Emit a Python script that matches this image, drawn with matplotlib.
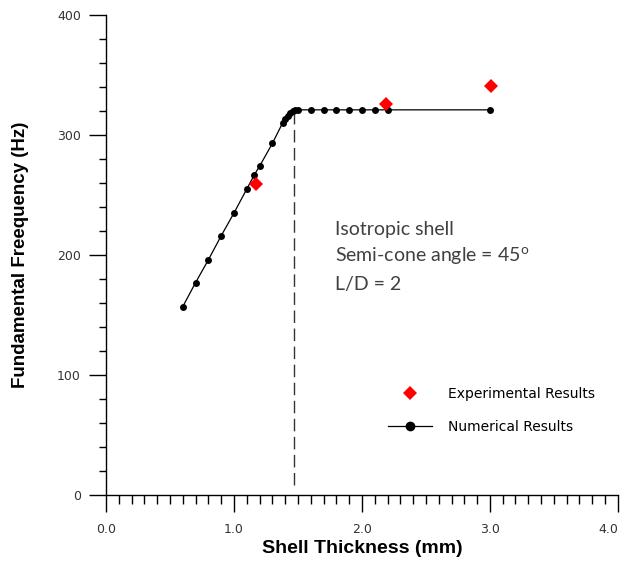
import numpy as np
import matplotlib
matplotlib.use("Agg")
import matplotlib.pyplot as plt
from matplotlib.lines import Line2D
from matplotlib.ticker import MultipleLocator

# Numerical results (shell thickness mm, frequency Hz)
num_thickness = [0.60, 0.70, 0.80, 0.90, 1.00, 1.10, 1.16, 1.20, 1.30, 1.38, 1.40,
                 1.42, 1.44, 1.46, 1.48, 1.50, 1.60, 1.70, 1.80, 1.90, 2.00,
                 2.10, 2.20, 3.00]
num_freq = [157, 177, 196, 216, 235, 255, 267, 274, 293, 310, 313,
            316, 318, 320, 321, 321, 321, 321, 321, 321, 321,
            321, 321, 321]

# Experimental results
exp_thickness = [1.17, 2.19, 3.01]
exp_freq = [259, 326, 341]

# Transition thickness (dashed line)
crit_thickness = 1.47
crit_freq = [8, 320]

x_ticks = [0.0, 1.0, 2.0, 3.0, 4.0]
x_ticklabels = ["0.0", "1.0", "2.0", "3.0", "4.0"]

notes = ["Isotropic shell", "Semi-cone angle = 45$^{\\mathrm{o}}$", "L/D = 2"]
note_y = [217, 194, 171]

plt.rcParams["mathtext.fontset"] = "custom"
plt.rcParams["mathtext.rm"] = "Lato"

fig = plt.figure(figsize=(6.26, 5.66), dpi=100)
ax = fig.add_axes([0.1693, 0.1254, 0.8177, 0.848])

ax.plot(num_thickness, num_freq, color="black", lw=0.9, marker="o",
        ms=5, markeredgewidth=0, zorder=3)
ax.plot(exp_thickness, exp_freq, linestyle="none", marker="D", color="#ff0000",
        ms=7, markeredgewidth=0, zorder=4)
ax.plot([crit_thickness, crit_thickness], crit_freq, color="#333333", lw=1,
        dashes=(9, 4), zorder=2)

for txt, yy in zip(notes, note_y):
    ax.text(1.79, yy, txt, fontsize=14, family="Lato", color="#404040",
            va="baseline", ha="left")

ax.set_xlim(0, 4.0)
ax.set_ylim(0, 400)
ax.set_xticks(x_ticks)
ax.set_xticklabels(x_ticklabels)
ax.xaxis.set_minor_locator(MultipleLocator(0.1))
ax.yaxis.set_major_locator(MultipleLocator(100))
ax.yaxis.set_minor_locator(MultipleLocator(20))
# last label would hang off the right edge otherwise
ax.get_xticklabels()[-1].set_horizontalalignment("right")

for s in ["top", "right"]:
    ax.spines[s].set_visible(False)
for s in ["left", "bottom"]:
    ax.spines[s].set_linewidth(1.0)

ax.tick_params(axis="x", which="major", direction="out", length=12, width=1,
               pad=8, labelsize=9, labelcolor="#333333")
ax.tick_params(axis="x", which="minor", direction="out", length=6.5, width=1)
ax.tick_params(axis="y", which="major", direction="out", length=12, width=1,
               pad=6, labelsize=9, labelcolor="#333333")
ax.tick_params(axis="y", which="minor", direction="out", length=5, width=1)

ax.set_xlabel("Shell Thickness (mm)", fontsize=14, fontweight="bold",
              family="Liberation Sans", labelpad=3)
ax.set_ylabel("Fundamental Freequency (Hz)", fontsize=13.5, fontweight="bold",
              family="Liberation Sans", labelpad=20)

handles = [
    Line2D([], [], linestyle="none", marker="D", color="#ff0000", ms=7,
           markeredgewidth=0),
    Line2D([], [], color="black", lw=0.9, marker="o", ms=7, markeredgewidth=0),
]
ax.legend(handles, ["Experimental Results", "Numerical Results"],
          loc="upper left", bbox_to_anchor=(0.537, 0.24), frameon=False,
          fontsize=10, handlelength=3.2, handletextpad=1.15, labelspacing=1.35,
          borderpad=0)

fig.savefig("out.png", dpi=100)
